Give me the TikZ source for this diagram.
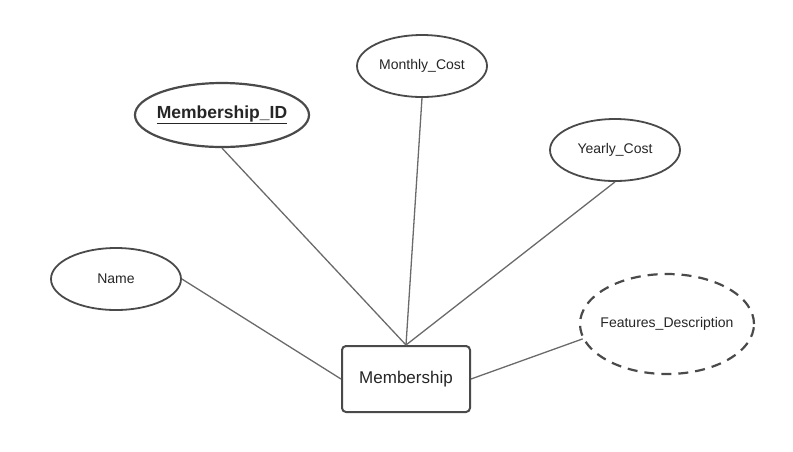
\documentclass[tikz,border=0pt]{standalone}
\usepackage{fontspec}
\setmainfont{Liberation Sans}
\usepackage{xcolor}
\usetikzlibrary{positioning, shapes.geometric}
\definecolor{edgegray}{HTML}{6A6A6A}
\definecolor{bordergray}{HTML}{4A4A4A}

\begin{document}
\begin{tikzpicture}[
  x=1pt, y=-1pt,
  every node/.style={font=\fontsize{14}{16}\selectfont, text=black!85},
  attr/.style={ellipse, draw=bordergray, line width=1.8pt, fill=white, inner sep=0pt, minimum width=130pt, minimum height=62pt},
  keyattr/.style={attr, line width=2.2pt, inner xsep=-16pt, minimum width=174pt, minimum height=64pt, font=\fontsize{17.5}{20}\selectfont\bfseries},
  weakattr/.style={attr, line width=2.2pt, inner xsep=-16pt, dash pattern=on 10pt off 7pt, minimum width=174pt, minimum height=100pt},
  entity/.style={draw=bordergray, line width=2pt, rounded corners=4pt, fill=white, minimum width=128pt, minimum height=66pt, inner sep=0pt, font=\fontsize{17}{20}\selectfont},
  ln/.style={draw=edgegray, line width=1.3pt},
]
\useasboundingbox (0,0) rectangle (793,451);

% Entity
\node[entity] (member) at (406,379) {Membership};

% Attributes
\node[keyattr] (mid) at (222,115) {\underline{Membership\_ID}};
\node[attr] (monthly) at (422,66) {Monthly\_Cost};
\node[attr] (yearly) at (615,150) {Yearly\_Cost};
\node[attr] (name) at (116,279) {Name};
\node[weakattr] (feat) at (667,324) {Features\_Description};

% Connectors
\draw[ln] (mid.south) -- (member.north);
\draw[ln] (monthly.south) -- (member.north);
\draw[ln] (yearly.south) -- (member.north);
\draw[ln] (name.east) -- (member.west);
\draw[ln] (feat.190) -- (member.east);
\end{tikzpicture}
\end{document}
